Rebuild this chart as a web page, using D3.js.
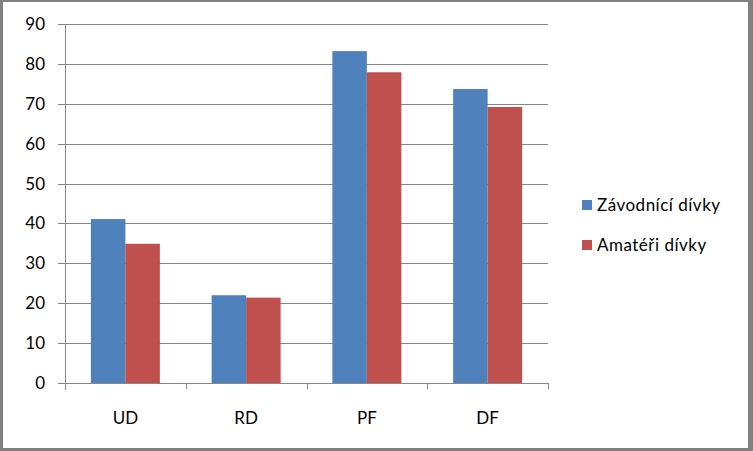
<!DOCTYPE html>
<html><head><meta charset="utf-8">
<script src="https://cdn.jsdelivr.net/npm/d3@7"></script>
<style>body{margin:0;background:#fff}svg{display:block}text{font-family:Lato,"Open Sans",sans-serif;fill:#000}</style>
</head><body><svg id="c" width="753" height="451"></svg>
<script>
const categories = ["UD","RD","PF","DF"];
const seriesNames = ["Závodnící dívky","Amatéři dívky"];
const zavodnici = [41.1, 22.0, 83.2, 73.7];
const amateri = [34.9, 21.4, 77.9, 69.2];
const yTicks = [0,10,20,30,40,50,60,70,80,90];
const colors = ["#4F81BD","#C0504D"];

const svg = d3.select("#c");
svg.append("rect").attr("width",753).attr("height",451).attr("fill","#808080");
svg.append("rect").attr("x",3).attr("y",2).attr("width",745).attr("height",446).attr("fill","#fff");

const m = {l:65, r:548, t:24, b:383};
const x = d3.scaleBand().domain(categories).range([m.l,m.r]).paddingInner(0).paddingOuter(0);
const y = d3.scaleLinear().domain([0,90]).range([m.b,m.t]);
const bw = x.bandwidth()/3.5;

const g = svg.append("g");
g.selectAll("line.grid").data(yTicks).join("line")
 .attr("x1",m.l-7).attr("x2",m.r).attr("y1",d=>Math.round(y(d))+0.5).attr("y2",d=>Math.round(y(d))+0.5)
 .attr("stroke","#868686").attr("stroke-width",1);
g.append("line").attr("x1",m.l+0.5).attr("x2",m.l+0.5).attr("y1",m.t).attr("y2",m.b+7).attr("stroke","#868686");
g.selectAll("line.xt").data(d3.range(categories.length+1)).join("line")
 .attr("x1",i=>Math.round(m.l+i*x.bandwidth())+0.5).attr("x2",i=>Math.round(m.l+i*x.bandwidth())+0.5)
 .attr("y1",m.b).attr("y2",m.b+6).attr("stroke","#868686");

const series = [zavodnici, amateri];
series.forEach((vals,si)=>{
  g.selectAll("rect.s"+si).data(categories).join("rect")
   .attr("x",(c)=>x(c)+0.75*bw+si*bw).attr("width",bw)
   .attr("y",(c,i)=>y(vals[i])).attr("height",(c,i)=>y(0)-y(vals[i]))
   .attr("fill",colors[si]);
});
g.append("line").attr("x1",m.l-7).attr("x2",m.r).attr("y1",Math.round(y(0))+0.5).attr("y2",Math.round(y(0))+0.5).attr("stroke","#868686");

g.selectAll("text.yl").data(yTicks).join("text")
 .attr("x",45).attr("y",d=>y(d)).attr("dy","0.35em").attr("text-anchor","end")
 .attr("font-size",17).text(d=>d);
g.selectAll("text.xl").data(categories).join("text")
 .attr("x",c=>x(c)+x.bandwidth()/2).attr("y",418).attr("dy","0.35em").attr("text-anchor","middle")
 .attr("font-size",17).text(d=>d);

const lg = svg.append("g");
seriesNames.forEach((n,i)=>{
  lg.append("rect").attr("x",582).attr("y",200+i*40).attr("width",10).attr("height",10).attr("fill",colors[i]);
  lg.append("text").attr("x",597).attr("y",205+i*40).attr("dy","0.35em").attr("font-size",17)
   .attr("letter-spacing",0.5).text(n);
});
</script></body></html>
